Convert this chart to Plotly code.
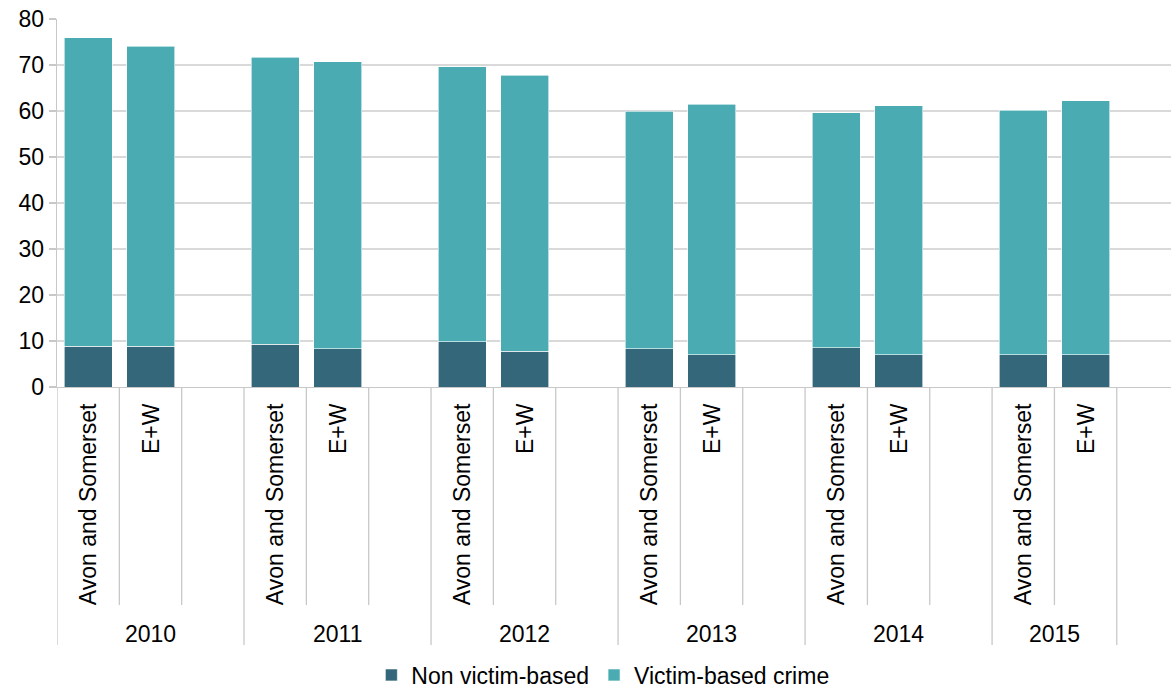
import plotly.graph_objects as go

years = ["2010", "2011", "2012", "2013", "2014", "2015"]
areas = ["Avon and Somerset", "E+W"]
# totals
total_avon = [75.9, 71.7, 69.6, 60.0, 59.6, 60.2]
total_ew = [74.1, 70.7, 67.8, 61.5, 61.1, 62.2]
non_victim_avon = [8.9, 9.3, 9.8, 8.3, 8.5, 7.0]
non_victim_ew = [8.9, 8.3, 7.8, 7.0, 7.0, 7.0]

victim_avon = [t - n for t, n in zip(total_avon, non_victim_avon)]
victim_ew = [t - n for t, n in zip(total_ew, non_victim_ew)]

DARK = "#346779"
TEAL = "#4aacb2"
LINE = "#c8c8c8"
FONT = "Liberation Sans, Arial, sans-serif"
FS = 23

# slot layout: each year has 3 slots (Avon, E+W, gap); last year has no gap
xs_avon = [3 * i for i in range(len(years))]
xs_ew = [3 * i + 1 for i in range(len(years))]
xs = []
nv = []
vb = []
for i in range(len(years)):
    xs += [xs_avon[i], xs_ew[i]]
    nv += [non_victim_avon[i], non_victim_ew[i]]
    vb += [victim_avon[i], victim_ew[i]]

fig = go.Figure()
fig.add_trace(go.Bar(x=xs, y=nv, name="Non victim-based", marker_color=DARK,
                     marker_line=dict(color="white", width=0.6), width=0.77))
fig.add_trace(go.Bar(x=xs, y=vb, name="Victim-based crime", marker_color=TEAL,
                     marker_line=dict(color="white", width=0.6), width=0.77))

plot_h = 368.0
def py(px):
    return (387 - px) / plot_h

shapes = []
last = 3 * (len(years) - 1) + 1
group_bounds = [3 * i - 0.5 for i in range(len(years))] + [last + 0.5]
inner_bounds = []
for i in range(len(years)):
    inner_bounds.append(3 * i + 0.5)
    if i < len(years) - 1:
        inner_bounds.append(3 * i + 1.5)
for b in group_bounds:
    shapes.append(dict(type="line", xref="x", yref="paper", x0=b, x1=b,
                       y0=0, y1=py(645), line=dict(color=LINE, width=1.3)))
for b in inner_bounds:
    shapes.append(dict(type="line", xref="x", yref="paper", x0=b, x1=b,
                       y0=0, y1=py(605), line=dict(color=LINE, width=1.3)))

annotations = []
for i in range(len(years)):
    for x, lab in ((xs_avon[i], areas[0]), (xs_ew[i], areas[1])):
        annotations.append(dict(x=x, y=py(401), xref="x", yref="paper",
                                text=lab, textangle=-90, showarrow=False,
                                yanchor="top", xanchor="center",
                                font=dict(size=FS, color="#000000", family=FONT)))
    gx = (group_bounds[i] + group_bounds[i + 1]) / 2
    annotations.append(dict(x=gx, y=py(634), xref="x", yref="paper",
                            text=years[i], showarrow=False,
                            yanchor="middle", xanchor="center",
                            font=dict(size=FS, color="#000000", family=FONT)))

fig.update_layout(
    width=1171, height=689,
    margin=dict(l=57, r=0, t=19, b=302, autoexpand=False),
    barmode="stack",
    bargap=0,
    plot_bgcolor="white", paper_bgcolor="white",
    font=dict(family=FONT, size=FS, color="#000000"),
    xaxis=dict(range=[-0.5, 17.37], showticklabels=False, showgrid=False,
               zeroline=False, showline=True, linecolor=LINE, linewidth=1.3,
               ticks="", automargin=False),
    yaxis=dict(range=[0, 80], dtick=10, showgrid=True, gridcolor="#d9d9d9",
               gridwidth=1.3, zeroline=False, showline=True, linecolor=LINE,
               linewidth=1.3, ticks="outside", ticklen=7, tickcolor=LINE,
               tickwidth=1.3, tickfont=dict(size=FS, family=FONT),
               automargin=False, ticklabeloverflow="allow"),
    legend=dict(orientation="h", x=0.49, xanchor="center", y=py(675),
                yanchor="middle", font=dict(size=FS, family=FONT),
                traceorder="normal", itemwidth=30, tracegroupgap=0),
    shapes=shapes,
    annotations=annotations,
)

# remove the browser's default 8px body margin so the figure fills the window exactly
fig.write_html("out.html",
               config={"displayModeBar": False, "staticPlot": True},
               post_script="document.body.style.margin='0';document.body.style.overflow='hidden';")
